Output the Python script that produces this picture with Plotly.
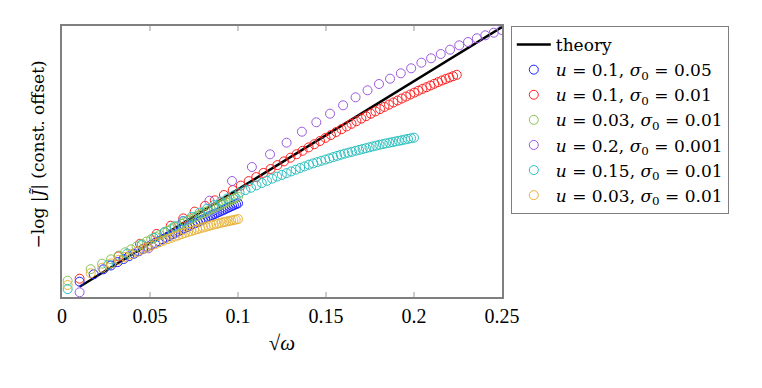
import plotly.graph_objects as go

# ---- data ----
theory_x = [0.01, 0.25]
theory_y = [0.103, 2.700]

# u=0.1, sigma0=0.05 (blue)
blue_x = [0.0100, 0.0180, 0.0235, 0.0278, 0.0316, 0.0350, 0.0381, 0.0409, 0.0436, 0.0461,
          0.0485, 0.0507, 0.0529, 0.0550, 0.0570, 0.0589, 0.0608, 0.0626, 0.0644, 0.0661,
          0.0678, 0.0695, 0.0711, 0.0726, 0.0742, 0.0757, 0.0771, 0.0786, 0.0800, 0.0814,
          0.0828, 0.0841, 0.0854, 0.0867, 0.0880, 0.0893, 0.0906, 0.0918, 0.0930, 0.0942,
          0.0954, 0.0966, 0.0977, 0.0989, 0.1000]
blue_y = [0.153, 0.227, 0.277, 0.315, 0.349, 0.380, 0.408, 0.433, 0.457, 0.480,
          0.502, 0.521, 0.541, 0.559, 0.577, 0.593, 0.610, 0.626, 0.641, 0.656,
          0.671, 0.686, 0.699, 0.712, 0.726, 0.738, 0.750, 0.763, 0.775, 0.786,
          0.798, 0.809, 0.819, 0.830, 0.841, 0.851, 0.862, 0.871, 0.881, 0.891,
          0.900, 0.910, 0.919, 0.928, 0.937]

# u=0.1, sigma0=0.01 (red)
red_x = [0.0100, 0.0321, 0.0443, 0.0538, 0.0618, 0.0689, 0.0754, 0.0813, 0.0868, 0.0920,
         0.0970, 0.1016, 0.1061, 0.1104, 0.1145, 0.1185, 0.1224, 0.1261, 0.1298, 0.1333,
         0.1367, 0.1401, 0.1434, 0.1466, 0.1497, 0.1528, 0.1558, 0.1588, 0.1617, 0.1645,
         0.1673, 0.1701, 0.1728, 0.1755, 0.1781, 0.1807, 0.1832, 0.1858, 0.1883, 0.1907,
         0.1931, 0.1955, 0.1979, 0.2002, 0.2025, 0.2048, 0.2071, 0.2093, 0.2115, 0.2137,
         0.2159, 0.2180, 0.2201, 0.2222, 0.2243]
red_y = [0.183, 0.406, 0.532, 0.631, 0.713, 0.786, 0.854, 0.912, 0.967, 1.020,
         1.069, 1.114, 1.159, 1.199, 1.241, 1.280, 1.319, 1.356, 1.393, 1.428,
         1.462, 1.496, 1.528, 1.560, 1.591, 1.620, 1.650, 1.678, 1.705, 1.732,
         1.758, 1.784, 1.808, 1.833, 1.856, 1.879, 1.901, 1.924, 1.945, 1.965,
         1.985, 2.005, 2.025, 2.044, 2.063, 2.081, 2.098, 2.115, 2.132, 2.149,
         2.165, 2.180, 2.194, 2.208, 2.222]

# u=0.03, sigma0=0.01 (green and yellow share the grid)
slow_x = [0.0032, 0.0163, 0.0228, 0.0279, 0.0322, 0.0359, 0.0393, 0.0424, 0.0454, 0.0481,
          0.0507, 0.0532, 0.0555, 0.0578, 0.0600, 0.0620, 0.0641, 0.0660, 0.0680, 0.0698,
          0.0716, 0.0734, 0.0751, 0.0768, 0.0784, 0.0801, 0.0816, 0.0832, 0.0847, 0.0862,
          0.0877, 0.0891, 0.0906, 0.0920, 0.0933, 0.0947, 0.0961, 0.0974, 0.0987, 0.1000]
green_y = [0.163, 0.278, 0.333, 0.377, 0.414, 0.447, 0.477, 0.505, 0.531, 0.555,
           0.578, 0.600, 0.621, 0.641, 0.661, 0.679, 0.697, 0.714, 0.732, 0.748,
           0.764, 0.779, 0.794, 0.809, 0.823, 0.838, 0.851, 0.864, 0.877, 0.890,
           0.902, 0.914, 0.926, 0.937, 0.948, 0.960, 0.971, 0.982, 0.992, 1.003]
yellow_y = [0.120, 0.238, 0.293, 0.336, 0.372, 0.401, 0.428, 0.452, 0.475, 0.495,
            0.514, 0.531, 0.548, 0.564, 0.579, 0.591, 0.604, 0.616, 0.629, 0.640,
            0.650, 0.659, 0.669, 0.678, 0.686, 0.695, 0.702, 0.710, 0.717, 0.724,
            0.730, 0.737, 0.743, 0.749, 0.754, 0.759, 0.764, 0.769, 0.774, 0.779]

# u=0.2, sigma0=0.001 (purple)
purple_x = [0.0100, 0.0491, 0.0687, 0.0838, 0.0966, 0.1079, 0.1182, 0.1276, 0.1363, 0.1445,
            0.1523, 0.1597, 0.1668, 0.1736, 0.1801, 0.1864, 0.1925, 0.1984, 0.2042, 0.2097,
            0.2152, 0.2205, 0.2257, 0.2307, 0.2357, 0.2405, 0.2453, 0.2499]
purple_y = [0.047, 0.487, 0.760, 0.963, 1.160, 1.300, 1.427, 1.543, 1.653, 1.747,
            1.833, 1.917, 1.997, 2.067, 2.130, 2.183, 2.237, 2.287, 2.343, 2.387,
            2.430, 2.473, 2.517, 2.550, 2.587, 2.617, 2.643, 2.670]

# u=0.15, sigma0=0.01 (cyan)
cyan_x = [0.0032, 0.0262, 0.0370, 0.0452, 0.0522, 0.0583, 0.0639, 0.0690, 0.0737, 0.0782,
          0.0824, 0.0864, 0.0903, 0.0939, 0.0975, 0.1009, 0.1042, 0.1074, 0.1105, 0.1135,
          0.1165, 0.1194, 0.1222, 0.1249, 0.1276, 0.1302, 0.1328, 0.1353, 0.1378, 0.1403,
          0.1427, 0.1450, 0.1473, 0.1496, 0.1519, 0.1541, 0.1563, 0.1584, 0.1605, 0.1626,
          0.1647, 0.1668, 0.1688, 0.1708, 0.1727, 0.1747, 0.1766, 0.1785, 0.1804, 0.1823,
          0.1841, 0.1860, 0.1878, 0.1896, 0.1914, 0.1931, 0.1949, 0.1966, 0.1983, 0.2000]
cyan_y = [0.079, 0.323, 0.434, 0.519, 0.590, 0.651, 0.707, 0.758, 0.802, 0.844,
          0.883, 0.920, 0.954, 0.985, 1.016, 1.044, 1.069, 1.093, 1.117, 1.140,
          1.162, 1.184, 1.204, 1.221, 1.239, 1.256, 1.273, 1.290, 1.306, 1.323,
          1.336, 1.349, 1.361, 1.374, 1.386, 1.399, 1.411, 1.422, 1.433, 1.443,
          1.452, 1.462, 1.471, 1.480, 1.488, 1.497, 1.506, 1.514, 1.522, 1.529,
          1.536, 1.543, 1.549, 1.556, 1.562, 1.568, 1.575, 1.581, 1.587, 1.593]

x_ticks = [0, 0.05, 0.1, 0.15, 0.2, 0.25]
x_tick_text = ["0", "0.05", "0.1", "0.15", "0.2", "0.25"]

# colours
BLUE = "#1f1fff"; RED = "#ff2020"; GREEN = "#8cc05a"; PURPLE = "#9a5ae0"
CYAN = "#2bbfbf"; YELLOW = "#e8b43a"; FRAME = "#7f7f7f"; TICK = "#cccccc"
FONT = "Liberation Serif, DejaVu Serif, serif"
LEG_FONT = "DejaVu Serif, serif"


def lbl(u, s):
    return f"<i>u</i> = {u}, <i>σ</i><sub>0</sub> = {s}"


series = [
    (blue_x, blue_y, BLUE, lbl("0.1", "0.05")),
    (red_x, red_y, RED, lbl("0.1", "0.01")),
    (slow_x, green_y, GREEN, lbl("0.03", "0.01")),
    (purple_x, purple_y, PURPLE, lbl("0.2", "0.001")),
    (cyan_x, cyan_y, CYAN, lbl("0.15", "0.01")),
    (slow_x, yellow_y, YELLOW, lbl("0.03", "0.01")),
]

fig = go.Figure()
fig.add_trace(go.Scatter(x=theory_x, y=theory_y, mode="lines", name="theory",
                         line=dict(color="black", width=2.4)))
for xs, ys, col, name in series:
    fig.add_trace(go.Scatter(
        x=xs, y=ys, mode="markers", name=name,
        marker=dict(symbol="circle-open", size=9, color=col, line=dict(width=1))))

# page body has an 8px margin, so the plot box is shifted by that amount
fig.update_layout(
    width=762, height=388,
    paper_bgcolor="white", plot_bgcolor="white",
    margin=dict(l=54, r=268, t=18, b=99),
    font=dict(family=FONT, size=20, color="black"),
    legend=dict(x=1.02, y=1.0, xanchor="left", yanchor="top",
                bordercolor=FRAME, borderwidth=1, bgcolor="white",
                font=dict(family=LEG_FONT, size=17), tracegroupgap=0, itemwidth=34),
    showlegend=True,
    annotations=[dict(text="−log |<i>J̃</i>| (const. offset)", textangle=-90,
                      xref="paper", yref="paper", x=-0.055, y=0.525,
                      xanchor="center", yanchor="middle", showarrow=False,
                      font=dict(family=LEG_FONT, size=17))],
)
fig.update_xaxes(
    range=[0, 0.25], tickvals=x_ticks, ticktext=x_tick_text,
    ticks="inside", ticklen=5, tickwidth=1.5, tickcolor=TICK,
    showline=True, linecolor=FRAME, linewidth=1.5, mirror="ticks",
    showgrid=False, zeroline=False,
    title=dict(text="√<i>ω</i>", standoff=10, font=dict(size=21)))
fig.update_yaxes(
    range=[0, 2.71], showticklabels=False, ticks="",
    showline=True, linecolor=FRAME, linewidth=1.5, mirror=True,
    showgrid=False, zeroline=False)

fig.write_html("out.html")
